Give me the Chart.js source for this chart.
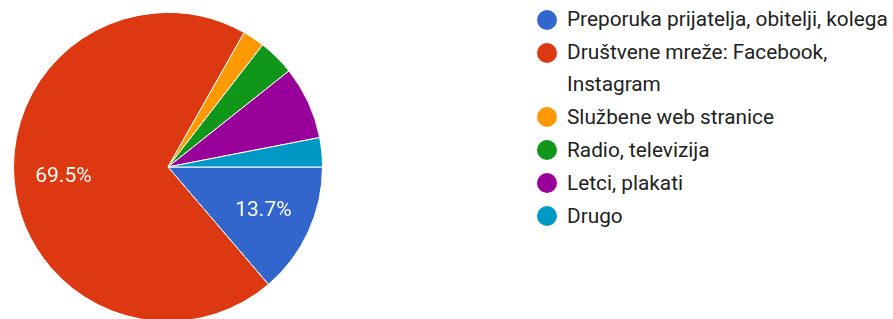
<!DOCTYPE html>
<html>
<head>
<meta charset="utf-8">
<script src="https://cdn.jsdelivr.net/npm/chart.js@4"></script>
<style>
  html, body { margin: 0; padding: 0; background: #fff; overflow: hidden; }
  body { width: 893px; height: 319px; position: relative; font-family: Roboto, Arial, sans-serif; }
  #pieBox { position: absolute; left: 0; top: 0; width: 336px; height: 334px; }
  #legend { position: absolute; left: 537px; top: 4px; width: 362px; margin: 0; padding: 0; list-style: none; }
  #legend li { position: relative; padding-left: 30px; font-size: 20.8px; line-height: 31.5px; color: #222; margin-bottom: 1.5px; }
  #legend .dot { position: absolute; left: 0; top: 5.5px; width: 20px; height: 20px; border-radius: 50%; }
</style>
</head>
<body>
<div id="pieBox"><canvas id="pieChart"></canvas></div>
<ul id="legend"></ul>
<script>
// odgovori (broj ispitanika po kategoriji, ukupno 131)
const categorias = [
    'Preporuka prijatelja, obitelji, kolega',
    'Društvene mreže: Facebook, Instagram',
    'Službene web stranice',
    'Radio, televizija',
    'Letci, plakati',
    'Drugo'
];
const valores = [18, 91, 3, 5, 10, 4];
const cores = ['#3366cc', '#dc3912', '#ff9900', '#109618', '#990099', '#0099c6'];

// etiquetas de percentagem dentro das fatias grandes
const pctLabels = {
    id: 'pctLabels',
    afterDatasetsDraw(chart) {
        const ctx = chart.ctx;
        const meta = chart.getDatasetMeta(0);
        const total = valores.reduce((a, b) => a + b, 0);
        ctx.save();
        ctx.fillStyle = '#fff';
        ctx.font = '21px Roboto, Arial, sans-serif';
        ctx.textAlign = 'center';
        ctx.textBaseline = 'middle';
        meta.data.forEach((arc, i) => {
            const frac = valores[i] / total;
            if (frac < 0.1) return;
            const p = arc.getProps(['x', 'y', 'startAngle', 'endAngle', 'outerRadius'], true);
            const mid = (p.startAngle + p.endAngle) / 2;
            const r = p.outerRadius * 0.68;
            ctx.fillText((frac * 100).toFixed(1) + '%', p.x + Math.cos(mid) * r, p.y + Math.sin(mid) * r);
        });
        ctx.restore();
    }
};

new Chart(document.getElementById('pieChart').getContext('2d'), {
    type: 'pie',
    data: {
        labels: categorias,
        datasets: [{
            data: valores,
            backgroundColor: cores,
            borderColor: '#fff',
            borderWidth: 1
        }]
    },
    options: {
        responsive: true,
        maintainAspectRatio: false,
        animation: false,
        rotation: 90,
        layout: { padding: 12 },
        plugins: {
            legend: { display: false },
            tooltip: { enabled: false }
        }
    },
    plugins: [pctLabels]
});

// legenda em HTML
const legend = document.getElementById('legend');
categorias.forEach((cat, i) => {
    const li = document.createElement('li');
    li.innerHTML = `<span class="dot" style="background:${cores[i]}"></span>${cat}`;
    legend.appendChild(li);
});
</script>
</body>
</html>
